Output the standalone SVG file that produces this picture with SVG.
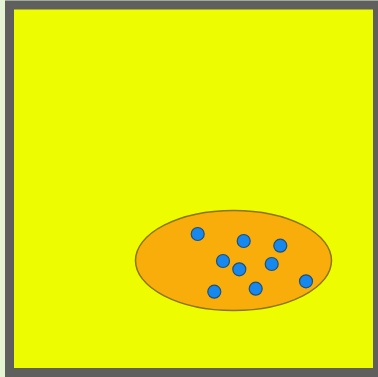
<svg xmlns="http://www.w3.org/2000/svg" width="378" height="377" viewBox="0 0 378 377">
<style>
.dot{fill:#1688ee;stroke:#20507a;stroke-width:1.2}
</style>
<rect x="0" y="0" width="378" height="377" fill="#e6f4d4"/>
<g id="frame">
<rect x="9.5" y="5" width="368" height="367.5" fill="#eefc00" stroke="#5f605e" stroke-width="9"/>
</g>
<g id="region">
<ellipse cx="233.5" cy="260.5" rx="98" ry="50" fill="#f8ad0a" stroke="#8a7410" stroke-width="1.5"/>
</g>
<g id="points">
<circle class="dot" cx="197.7" cy="234" r="6.5"/>
<circle class="dot" cx="243.7" cy="241" r="6.5"/>
<circle class="dot" cx="280.3" cy="245.7" r="6.5"/>
<circle class="dot" cx="223" cy="261" r="6.5"/>
<circle class="dot" cx="239.3" cy="269.3" r="6.5"/>
<circle class="dot" cx="271.7" cy="264" r="6.5"/>
<circle class="dot" cx="306" cy="281.3" r="6.5"/>
<circle class="dot" cx="214.3" cy="291.7" r="6.5"/>
<circle class="dot" cx="255.7" cy="288.7" r="6.5"/>
</g>
</svg>
